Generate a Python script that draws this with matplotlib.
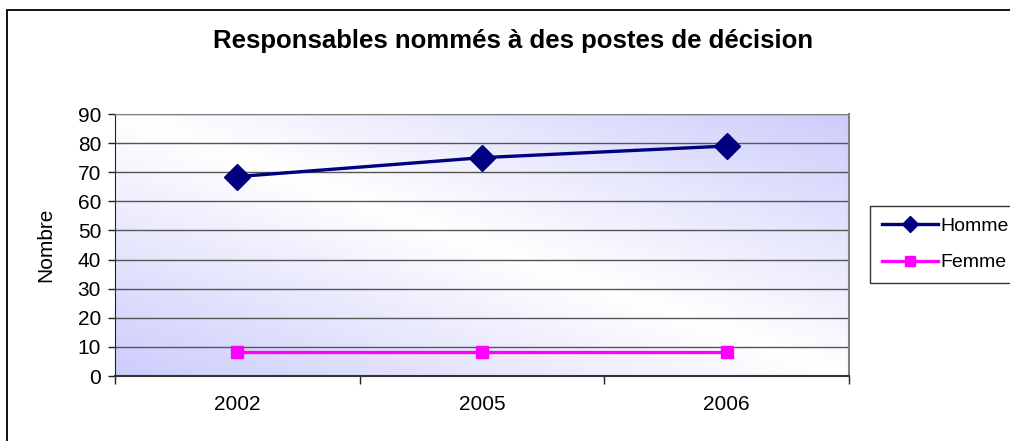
import numpy as np
import matplotlib.pyplot as plt
from matplotlib.patches import Rectangle
from matplotlib.lines import Line2D

plt.rcParams['font.family'] = ['Liberation Sans', 'DejaVu Sans']

# Data
annees = ['2002', '2005', '2006']
hommes = [68.5, 75, 79]
femmes = [8.4, 8.4, 8.4]
y_ticks = list(range(0, 91, 10))

fig = plt.figure(figsize=(10.1, 4.41), dpi=100)
ax = fig.add_axes([115 / 1010, 1 - 376 / 441, (849 - 115) / 1010, (376 - 114) / 441])

# diagonal gradient background of the plot area (white band, lavender corners)
u, v = np.meshgrid(np.linspace(0, 1, 300), np.linspace(0, 1, 300))
t = np.abs(u + v - 1)
white = np.array([1.0, 1.0, 1.0])
lav = np.array([204, 204, 252]) / 255
grad = white[None, None, :] * (1 - t[..., None]) + lav[None, None, :] * t[..., None]
ax.imshow(grad, extent=[0, 1, 0, 1], transform=ax.transAxes, origin='lower',
          aspect='auto', zorder=0)

x = np.arange(len(annees))
ax.plot(x, hommes, color='#000080', lw=2.4, marker='D', ms=13, zorder=3, clip_on=False)
ax.plot(x, femmes, color='#ff00ff', lw=2.4, marker='s', ms=9, zorder=3, clip_on=False)

ax.set_xlim(-0.5, len(annees) - 0.5)
ax.set_ylim(0, 90)
ax.set_yticks(y_ticks)
ax.tick_params(axis='y', labelsize=15, length=5, width=1, color='#222222', pad=5)
for yv in y_ticks[1:]:
    ax.axhline(yv, color='#555555', lw=1, zorder=1)

ax.set_xticks(x)
ax.set_xticklabels(annees)
ax.set_xticks(np.arange(-0.5, len(annees)), minor=True)
ax.tick_params(axis='x', which='major', length=0, labelsize=15, pad=14)
ax.tick_params(axis='x', which='minor', length=6, width=1, color='#222222', direction='out')

ax.spines['left'].set_color('#222222')
ax.spines['bottom'].set_color('#333333')
ax.spines['bottom'].set_linewidth(1.5)
ax.spines['top'].set_color('#808080')
ax.spines['right'].set_color('#808080')
ax.spines['right'].set_linewidth(1.5)
ax.set_ylabel('Nombre', fontsize=15, labelpad=16)

fig.text(0.508, 1 - 41 / 441, 'Responsables nommés à des postes de décision',
         ha='center', va='center', fontsize=18.5, fontweight='bold')

# legend
handles = [
    Line2D([], [], color='#000080', lw=2.4, marker='D', ms=8),
    Line2D([], [], color='#ff00ff', lw=2.4, marker='s', ms=7),
]
leg = fig.legend(handles, ['Homme', 'Femme'], loc='upper left',
                 bbox_to_anchor=(870 / 1010, 1 - 206 / 441), fontsize=14,
                 frameon=True, fancybox=False, edgecolor='black', handlelength=2.9,
                 handletextpad=0.1, borderpad=0.6, labelspacing=0.95, borderaxespad=0)
leg.get_frame().set_linewidth(1)

# outer chart frame
fig.patches.append(Rectangle((7 / 1010, -0.1), 1.2, 1.1 - 10 / 441,
                             transform=fig.transFigure, fill=False,
                             edgecolor='black', lw=1.3))

fig.savefig('out.png', dpi=100)
